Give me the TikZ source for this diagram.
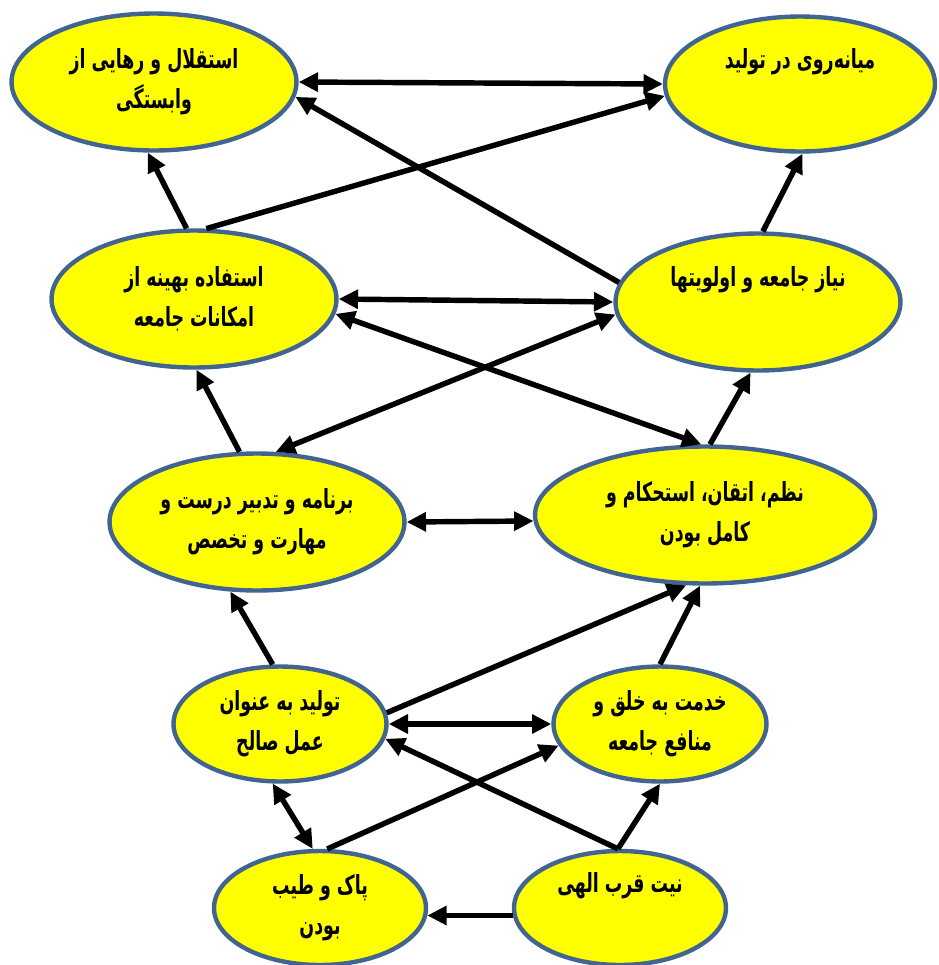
\documentclass[tikz,border=0pt]{standalone}
\usepackage{fontspec}
\newfontfamily\arabicfont[Script=Arabic,FakeStretch=0.66]{DejaVu Sans}
\TeXXeTstate=1
\usetikzlibrary{shapes.geometric}
\usetikzlibrary{arrows.meta}
\definecolor{rim}{RGB}{65,100,145}
\definecolor{pad}{RGB}{255,255,0}
\newcommand{\fatext}[1]{\beginR #1\endR}

\begin{document}
\begin{tikzpicture}[x=0.02cm, y=-0.02cm,
 goal/.style={ellipse, draw=rim, line width=2.5pt, fill=pad, inner sep=0, align=center, font=\arabicfont\bfseries\fontsize{15}{22.7}\selectfont},
 link/.style={black, line width=3.1pt, ->, >={Triangle[length=11pt,width=10.5pt]}},
 both/.style={link, <->}]
\useasboundingbox (0,0) rectangle (939,965);
\node[goal, minimum width=5.7cm, minimum height=2.74cm] (indep) at (154,82) {\fatext{استقلال و رهایی از}\\\fatext{وابستگی}};
\node[goal, minimum width=5.4cm, minimum height=2.7cm] (moder) at (800,84) {\fatext{میانه‌روی در تولید}\\\strut};
\node[goal, minimum width=5.7cm, minimum height=2.74cm] (optim) at (194,299) {\fatext{استفاده بهینه از}\\\fatext{امکانات جامعه}};
\node[goal, minimum width=5.7cm, minimum height=2.74cm] (needs) at (758,302) {\fatext{نیاز جامعه و اولویتها}\\\strut};
\node[goal, minimum width=5.9cm, minimum height=2.74cm] (plan) at (257,522) {\fatext{برنامه و تدبیر درست و}\\\fatext{مهارت و تخصص}};
\node[goal, minimum width=6.8cm, minimum height=2.74cm] (order) at (705,515) {\fatext{نظم، اتقان، استحکام و}\\\fatext{کامل بودن}};
\node[goal, minimum width=4.26cm, minimum height=2.3cm] (work) at (280,724) {\fatext{تولید به عنوان}\\\fatext{عمل صالح}};
\node[goal, minimum width=4.26cm, minimum height=2.3cm] (serve) at (660,724) {\fatext{خدمت به خلق و}\\\fatext{منافع جامعه}};
\node[goal, minimum width=4.24cm, minimum height=2.28cm] (pure) at (320,908) {\fatext{پاک و طیب}\\\fatext{بودن}};
\node[goal, minimum width=4.24cm, minimum height=2.28cm] (intent) at (620,908) {\fatext{نیت قرب الهی}\\\strut};
\draw[both] (indep.east)--(moder.west);
\draw[link] (needs.172)--(indep.354);
\draw[link] (optim.80)--(moder.185);
\draw[link] (optim.96)--(indep.265);
\draw[link] (needs.86)--(moder.272);
\draw[both] (optim.east)--(needs.west);
\draw[both] (order.93)--(optim.354);
\draw[both] (plan.75)--(needs.185);
\draw[link] (plan.104)--(optim.272);
\draw[link] (order.86)--(needs.264);
\draw[both] (plan.east)--(order.182);
\draw[link] (work.97)--(plan.249);
\draw[link] (work.6)--(order.255);
\draw[link] (serve.90)--(order.266);
\draw[both] (work.east)--(serve.west);
\draw[link] (intent.92)--(work.352);
\draw[link] (pure.83)--(serve.192);
\draw[both] (work.263)--(pure.97);
\draw[link] (intent.92)--(serve.270);
\draw[link] (intent.184)--(pure.356);
\end{tikzpicture}
\end{document}
